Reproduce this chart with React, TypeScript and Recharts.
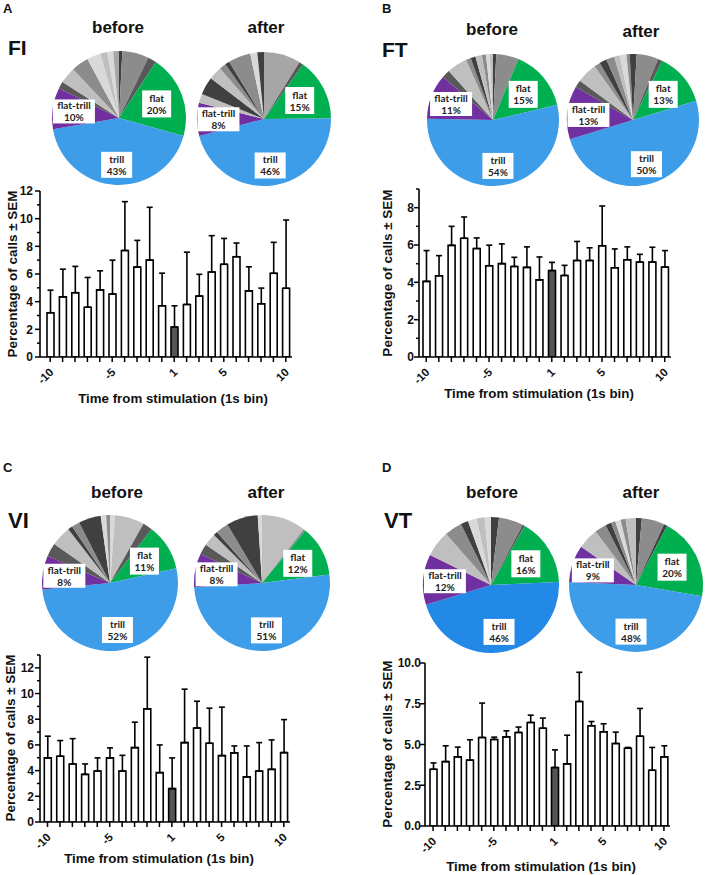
import React from 'react';
import { BarChart, Bar, XAxis, YAxis, ErrorBar, Cell, PieChart, Pie } from 'recharts';

const FONT = '"Liberation Sans", Arial, sans-serif';
const BOX_FONT = 'Lato, "Open Sans", sans-serif';

// 1 s bins around the stimulation, the stimulation bin is "1"
const bins = ['-10', '-9', '-8', '-7', '-6', '-5', '-4', '-3', '-2', '-1', '1', '2', '3', '4', '5', '6', '7', '8', '9', '10'];
const labelledBins = ['-10', '-5', '1', '5', '10'];
const stimBin = '1';

// percentage of calls per bin (mean) and SEM
const fiMean = [3.2, 4.35, 4.65, 3.6, 4.85, 4.55, 7.7, 6.5, 7.0, 3.7, 2.17, 3.8, 4.4, 6.15, 6.7, 7.25, 4.78, 3.85, 6.05, 4.97];
const fiSem = [1.63, 2.0, 1.9, 2.15, 1.38, 2.45, 3.53, 1.93, 3.82, 2.36, 1.53, 3.78, 1.58, 2.62, 1.87, 0.99, 1.74, 1.13, 2.24, 4.93];

const ftMean = [4.05, 4.35, 5.98, 6.36, 5.81, 4.89, 5.0, 4.85, 4.8, 4.13, 4.63, 4.37, 5.17, 5.17, 5.96, 4.78, 5.21, 5.08, 5.08, 4.82];
const ftSem = [1.65, 1.08, 1.02, 1.14, 0.57, 1.1, 1.06, 0.49, 1.1, 1.23, 0.44, 0.54, 1.02, 0.68, 2.13, 1.01, 0.69, 0.42, 0.8, 0.88];

const viMean = [4.99, 5.12, 4.52, 3.71, 3.97, 4.99, 3.97, 5.79, 8.81, 3.84, 2.6, 6.18, 7.32, 6.13, 5.17, 5.38, 3.51, 3.97, 4.1, 5.4];
const viSem = [1.69, 1.22, 1.97, 0.81, 1.02, 0.78, 1.22, 1.98, 4.02, 2.16, 2.39, 4.16, 2.08, 2.73, 3.77, 0.54, 2.41, 2.21, 2.29, 2.57];

const vtMean = [3.48, 3.95, 4.24, 4.04, 5.43, 5.31, 5.47, 5.74, 6.35, 6.0, 3.59, 3.81, 7.64, 6.15, 5.78, 5.06, 4.77, 5.51, 3.42, 4.24];
const vtSem = [0.39, 0.97, 0.6, 1.25, 2.11, 0.14, 0.37, 0.33, 0.45, 0.62, 1.08, 1.76, 1.79, 0.26, 0.49, 0.7, 0.05, 1.7, 1.4, 0.68];

// call type composition, clockwise from 12 o'clock (g1..g6 = other call types, dark to light)
const fiBeforeTypes = ['g1', 'g3', 'g2', 'flat', 'trill', 'flat-trill', 'g2', 'g5', 'g3', 'g6', 'g5', 'g6', 'g4'];
const fiBeforePct = [0.8, 6.4, 2.1, 20, 43, 10, 1.7, 4, 4.2, 3.3, 1.7, 1.4, 1.4];
const fiAfterTypes = ['g4', 'g2', 'flat', 'trill', 'flat-trill', 'g5', 'g1', 'g5', 'g3', 'g1', 'g3', 'g6', 'g1'];
const fiAfterPct = [8.9, 1, 15, 46, 8, 2.2, 4.3, 3.2, 1.6, 1.1, 5.4, 1.7, 1.6];

const ftBeforeTypes = ['g1', 'g3', 'flat', 'trill', 'flat-trill', 'g2', 'g5', 'g3', 'g1', 'g5', 'g3', 'g6', 'g5'];
const ftBeforePct = [0.8, 5.5, 15, 54, 11, 2.0, 5.0, 1.2, 1.2, 1.6, 1.0, 0.9, 0.8];
const ftAfterTypes = ['g1', 'g3', 'g2', 'flat', 'trill', 'flat-trill', 'g2', 'g5', 'g3', 'g1', 'g3', 'g5', 'g6', 'g3', 'g1'];
const ftAfterPct = [0.9, 5.3, 1.1, 13, 50, 13, 1.8, 5.0, 1.5, 1.8, 2.0, 1.4, 1.6, 0.8, 0.8];

const viBeforeTypes = ['g6', 'g5', 'g2', 'flat', 'trill', 'flat-trill', 'g2', 'g5', 'g1', 'g3', 'g1', 'g6', 'g3'];
const viBeforePct = [1.2, 7.0, 2.3, 11, 52, 8, 3.2, 4.8, 1.1, 1.9, 5.3, 1.3, 0.9];
const viAfterTypes = ['g5', 'g3', 'flat', 'trill', 'flat-trill', 'g2', 'g5', 'g1', 'g3', 'g1', 'g6'];
const viAfterPct = [10.5, 0.5, 12, 51, 8, 2.5, 3.0, 1.0, 3.0, 7.5, 1.0];

const vtBeforeTypes = ['g1', 'g3', 'g2', 'flat', 'trill', 'flat-trill', 'g5', 'g3', 'g1', 'g6', 'g5', 'g6'];
const vtBeforePct = [1.9, 5.8, 0.6, 16, 46, 12, 6.2, 4.2, 1.8, 2.1, 1.9, 1.5];
const vtAfterTypes = ['g1', 'g3', 'g1', 'flat', 'trill', 'flat-trill', 'g5', 'g3', 'g1', 'g3', 'g6', 'g3', 'g5'];
const vtAfterPct = [1.4, 5.5, 0.8, 20, 48, 9, 5.0, 2.8, 1.4, 1.1, 1.3, 1.2, 2.5];

const sliceColors: Record<string, string> = {
  g1: '#404040',
  g2: '#595959',
  g3: '#8c8c8c',
  g4: '#a6a6a6',
  g5: '#bfbfbf',
  g6: '#d9d9d9',
  flat: '#00b050',
  trill: '#3e9de9',
  'flat-trill': '#7030a0',
};

// label boxes inside the pies
const boxSpec: Record<string, { w: number; h: number; k: number }> = {
  flat: { w: 29, h: 27, k: 0.6 },
  trill: { w: 31, h: 26, k: 0.7 },
  'flat-trill': { w: 42, h: 24, k: 0.68 },
};

const renderPieLabel = (props: any) => {
  const { cx, cy, midAngle, outerRadius, name, percent } = props;
  const spec = boxSpec[name];
  if (!spec) return null;
  const rad = (-midAngle * Math.PI) / 180;
  const x = cx + outerRadius * spec.k * Math.cos(rad);
  const y = cy + outerRadius * spec.k * Math.sin(rad);
  return (
    <g>
      <rect x={x - spec.w / 2} y={y - spec.h / 2} width={spec.w} height={spec.h} fill="#ffffff" />
      <text x={x} y={y - 2} textAnchor="middle" fontSize={10} fontWeight={700} fontFamily={BOX_FONT} fill="#222">{name}</text>
      <text x={x} y={y + 10} textAnchor="middle" fontSize={10} fontWeight={700} fontFamily={BOX_FONT} fill="#222">{Math.round(percent * 100)}%</text>
    </g>
  );
};

function SlicePie({ cx, cy, r, types, pct, trillColor }: any) {
  const size = 2 * r + 20;
  const data = types.map((t: string, i: number) => ({ name: t, value: pct[i] }));
  return (
    <div style={{ position: 'absolute', left: cx - size / 2, top: cy - size / 2 }}>
      <PieChart width={size} height={size} margin={{ top: 0, right: 0, bottom: 0, left: 0 }}>
        <Pie data={data} dataKey="value" nameKey="name" cx={size / 2} cy={size / 2} outerRadius={r}
          startAngle={90} endAngle={-270} stroke="none" label={renderPieLabel} labelLine={false}
          isAnimationActive={false}>
          {data.map((d: any, i: number) => (
            <Cell key={i} fill={d.name === 'trill' && trillColor ? trillColor : sliceColors[d.name]} />
          ))}
        </Pie>
      </PieChart>
    </div>
  );
}

const XTick = (props: any) => {
  const { x, y, payload } = props;
  const show = labelledBins.includes(payload.value);
  return (
    <g>
      <line x1={x} y1={y} x2={x} y2={y + 5} stroke="#000" strokeWidth={1.5} />
      {show && (
        <text x={x + 4} y={y + 16} transform={`rotate(-45 ${x + 4} ${y + 16})`} textAnchor="end"
          fontSize={11.5} fontWeight={700} fontFamily={FONT} fill="#111">{payload.value}</text>
      )}
    </g>
  );
};

const YTick = ({ x, y, payload, major, decimals, gap }: any) => {
  const v = payload.value;
  const isMajor = Math.abs(v / major - Math.round(v / major)) < 1e-6;
  return (
    <g>
      <line x1={x - (isMajor ? 5 : 3)} y1={y} x2={x} y2={y} stroke="#000" strokeWidth={1.5} />
      {isMajor && (
        <text x={x - gap} y={y} dy="0.36em" textAnchor="end" fontSize={12} fontWeight={700} fontFamily={FONT} fill="#111">
          {v.toFixed(decimals)}
        </text>
      )}
    </g>
  );
};

function BarPanel({ mean, sem, plot, yMax, yTicks, major, decimals, gap, pad }: any) {
  const yw = 50, xh = 40, mt = 10, mr = 10;
  const left = plot.left - yw;
  const top = plot.top - mt;
  const width = plot.right - left + mr;
  const height = plot.bottom - top + xh;
  const data = bins.map((bin, i) => ({ bin, mean: mean[i], err: [0, sem[i]] }));
  return (
    <div style={{ position: 'absolute', left, top }}>
      <BarChart width={width} height={height} data={data} margin={{ top: mt, right: mr, bottom: 0, left: 0 }} barSize={7}>
        <XAxis dataKey="bin" height={xh} interval={0} tickSize={0} tickMargin={0} tickLine={false}
          axisLine={{ stroke: '#000', strokeWidth: 1.6 }} padding={{ left: pad, right: 0 }} tick={XTick} />
        <YAxis width={yw} type="number" domain={[0, yMax]} ticks={yTicks} interval={0} tickSize={0} tickMargin={0}
          tickLine={false} axisLine={{ stroke: '#000', strokeWidth: 1.6 }} allowDataOverflow
          tick={(p: any) => <YTick {...p} major={major} decimals={decimals} gap={gap} />} />
        <Bar dataKey="mean" stroke="#000" strokeWidth={1.6} isAnimationActive={false}>
          {data.map((d) => (
            <Cell key={d.bin} fill={d.bin === stimBin ? '#555555' : '#ffffff'} />
          ))}
          <ErrorBar dataKey="err" width={3} stroke="#000" strokeWidth={1.6} direction="y" />
        </Bar>
      </BarChart>
    </div>
  );
}

const T = ({ x, y, size, children, anchor = 'start', rotate }: any) => (
  <text x={x} y={y} fontSize={size} fontWeight={700} fontFamily={FONT} fill="#111" textAnchor={anchor}
    dominantBaseline={rotate !== undefined ? 'central' : undefined}
    transform={rotate !== undefined ? `rotate(${rotate} ${x} ${y})` : undefined}>{children}</text>
);

const yTitle = 'Percentage of calls \u00b1 SEM';
const xTitle = 'Time from stimulation (1s bin)';

export default function App() {
  return (
    <div style={{ position: 'absolute', left: 0, top: 0, width: 708, height: 875, background: '#fff', overflow: 'hidden' }}>
      <SlicePie cx={119} cy={118} r={67} types={fiBeforeTypes} pct={fiBeforePct} />
      <SlicePie cx={264} cy={119} r={67} types={fiAfterTypes} pct={fiAfterPct} />
      <SlicePie cx={493} cy={120} r={66} types={ftBeforeTypes} pct={ftBeforePct} />
      <SlicePie cx={633} cy={120} r={66} types={ftAfterTypes} pct={ftAfterPct} />
      <SlicePie cx={110} cy={583} r={68} types={viBeforeTypes} pct={viBeforePct} />
      <SlicePie cx={262} cy={583} r={68} types={viAfterTypes} pct={viAfterPct} />
      <SlicePie cx={491} cy={585} r={68} types={vtBeforeTypes} pct={vtBeforePct} trillColor="#2389e6" />
      <SlicePie cx={636} cy={585} r={67} types={vtAfterTypes} pct={vtAfterPct} />

      <BarPanel mean={fiMean} sem={fiSem} plot={{ left: 40, right: 292, top: 191, bottom: 357 }} yMax={12}
        yTicks={[0, 1, 2, 3, 4, 5, 6, 7, 8, 9, 10, 11, 12]} major={2} decimals={0} gap={7} pad={4} />
      <BarPanel mean={ftMean} sem={ftSem} plot={{ left: 419, right: 671, top: 189, bottom: 357 }} yMax={9}
        yTicks={[0, 1, 2, 3, 4, 5, 6, 7, 8, 9]} major={2} decimals={0} gap={5} pad={1} />
      <BarPanel mean={viMean} sem={viSem} plot={{ left: 40, right: 290, top: 655, bottom: 822 }} yMax={13}
        yTicks={[0, 1, 2, 3, 4, 5, 6, 7, 8, 9, 10, 11, 12, 13]} major={2} decimals={0} gap={6} pad={1.3} />
      <BarPanel mean={vtMean} sem={vtSem} plot={{ left: 425, right: 670, top: 663, bottom: 826 }} yMax={10}
        yTicks={[0, 2.5, 5, 7.5, 10]} major={2.5} decimals={1} gap={4} pad={2} />

      <svg width={708} height={875} style={{ position: 'absolute', left: 0, top: 0, pointerEvents: 'none' }}>
        <T x={3} y={13} size={13}>A</T>
        <T x={382} y={13} size={13}>B</T>
        <T x={3} y={472} size={13}>C</T>
        <T x={382} y={472} size={13}>D</T>

        <T x={8} y={55} size={21}>FI</T>
        <T x={382} y={57} size={21}>FT</T>
        <T x={8} y={528} size={22}>VI</T>
        <T x={384} y={528} size={22}>VT</T>

        <T x={118} y={33} size={17} anchor="middle">before</T>
        <T x={266} y={33} size={17} anchor="middle">after</T>
        <T x={492} y={35} size={17} anchor="middle">before</T>
        <T x={641} y={37} size={17} anchor="middle">after</T>
        <T x={117} y={498} size={17} anchor="middle">before</T>
        <T x={266} y={498} size={17} anchor="middle">after</T>
        <T x={492} y={498} size={17} anchor="middle">before</T>
        <T x={641} y={498} size={17} anchor="middle">after</T>

        <T x={12} y={274} size={13.5} anchor="middle" rotate={-90}>{yTitle}</T>
        <T x={387} y={273} size={13.5} anchor="middle" rotate={-90}>{yTitle}</T>
        <T x={10} y={738} size={13.5} anchor="middle" rotate={-90}>{yTitle}</T>
        <T x={387} y={744} size={13.5} anchor="middle" rotate={-90}>{yTitle}</T>

        <T x={173} y={398} size={13.3} anchor="middle" rotate={0}>{xTitle}</T>
        <T x={539} y={393} size={13.3} anchor="middle" rotate={0}>{xTitle}</T>
        <T x={159} y={858} size={13.3} anchor="middle" rotate={0}>{xTitle}</T>
        <T x={541} y={866} size={13.3} anchor="middle" rotate={0}>{xTitle}</T>
      </svg>
    </div>
  );
}
